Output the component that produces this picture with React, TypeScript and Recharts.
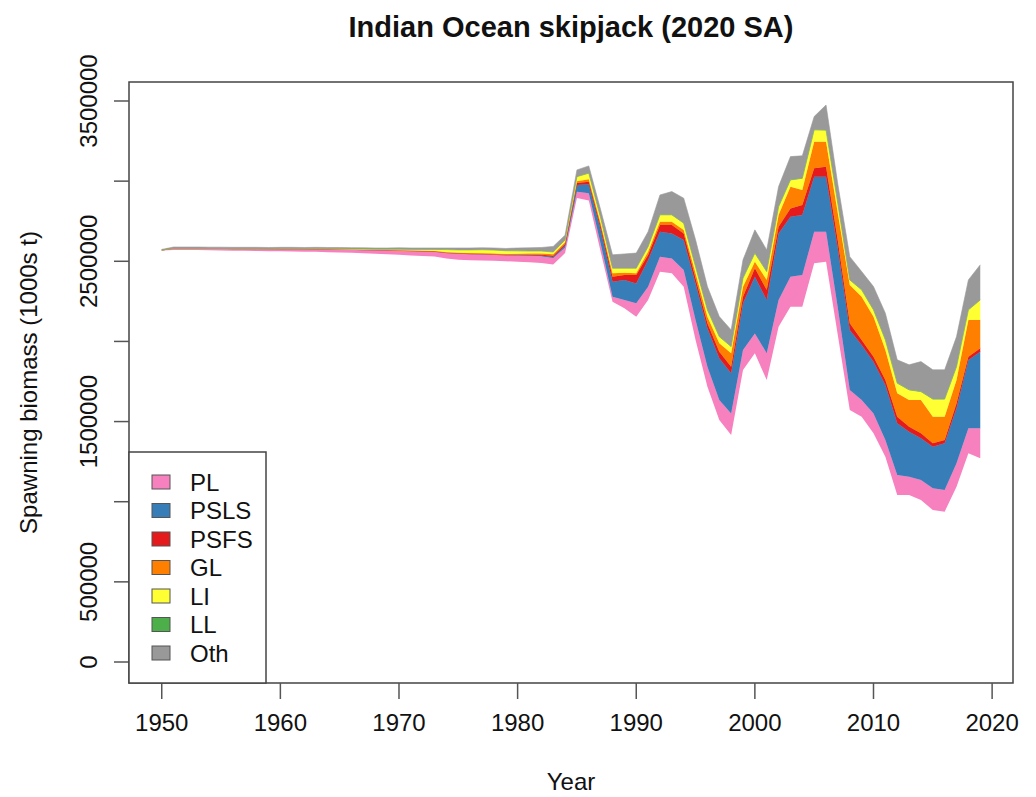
import React from 'react';
import { ComposedChart, Area, XAxis, YAxis, ReferenceArea } from 'recharts';

// Categories
const years = [
  1950, 1951, 1952, 1953, 1954, 1955, 1956, 1957, 1958, 1959,
  1960, 1961, 1962, 1963, 1964, 1965, 1966, 1967, 1968, 1969,
  1970, 1971, 1972, 1973, 1974, 1975, 1976, 1977, 1978, 1979,
  1980, 1981, 1982, 1983, 1984, 1985, 1986, 1987, 1988, 1989,
  1990, 1991, 1992, 1993, 1994, 1995, 1996, 1997, 1998, 1999,
  2000, 2001, 2002, 2003, 2004, 2005, 2006, 2007, 2008, 2009,
  2010, 2011, 2012, 2013, 2014, 2015, 2016, 2017, 2018, 2019,
];

// Spawning biomass (millions of 1000s t) - unfilled base
const baseBiomass = [
  2.568, 2.571, 2.571, 2.570, 2.569, 2.568, 2.566, 2.565, 2.564, 2.563,
  2.562, 2.561, 2.560, 2.559, 2.557, 2.555, 2.553, 2.550, 2.547, 2.544,
  2.540, 2.536, 2.533, 2.530, 2.518, 2.510, 2.506, 2.505, 2.503, 2.500,
  2.497, 2.494, 2.490, 2.480, 2.551, 2.895, 2.879, 2.560, 2.248, 2.207,
  2.154, 2.258, 2.435, 2.425, 2.341, 2.009, 1.717, 1.510, 1.416, 1.822,
  1.926, 1.759, 2.092, 2.216, 2.216, 2.487, 2.497, 2.036, 1.572, 1.530,
  1.427, 1.281, 1.042, 1.042, 1.011, 0.948, 0.938, 1.094, 1.302, 1.271,
];

// Fishery impact layers (millions)
const PL = [
  0.002, 0.010, 0.010, 0.011, 0.011, 0.012, 0.013, 0.014, 0.015, 0.015,
  0.016, 0.017, 0.017, 0.018, 0.019, 0.020, 0.021, 0.022, 0.024, 0.026,
  0.028, 0.030, 0.031, 0.032, 0.036, 0.040, 0.041, 0.041, 0.040, 0.040,
  0.041, 0.042, 0.042, 0.040, 0.035, 0.039, 0.045, 0.050, 0.031, 0.052,
  0.084, 0.083, 0.093, 0.093, 0.104, 0.124, 0.125, 0.124, 0.135, 0.124,
  0.124, 0.167, 0.166, 0.188, 0.198, 0.197, 0.187, 0.170, 0.125, 0.104,
  0.124, 0.104, 0.125, 0.114, 0.124, 0.136, 0.135, 0.146, 0.156, 0.187,
];

const PSLS = [
  0, 0, 0, 0, 0, 0, 0, 0, 0, 0,
  0, 0, 0, 0, 0, 0, 0, 0, 0, 0,
  0, 0, 0, 0, 0, 0, 0, 0, 0, 0,
  0.001, 0.002, 0.004, 0.006, 0.012, 0.042, 0.056, 0.090, 0.093, 0.124,
  0.124, 0.167, 0.156, 0.156, 0.188, 0.229, 0.240, 0.261, 0.250, 0.292,
  0.354, 0.332, 0.416, 0.374, 0.375, 0.343, 0.343, 0.370, 0.374, 0.344,
  0.322, 0.343, 0.322, 0.281, 0.261, 0.259, 0.291, 0.343, 0.426, 0.478,
];

const PSFS = [
  0, 0, 0, 0, 0, 0, 0, 0, 0, 0,
  0, 0, 0, 0, 0, 0, 0, 0, 0, 0,
  0, 0, 0, 0, 0, 0, 0, 0, 0, 0,
  0.002, 0.003, 0.005, 0.008, 0.010, 0.012, 0.016, 0.020, 0.032, 0.031,
  0.052, 0.031, 0.042, 0.052, 0.041, 0.032, 0.031, 0.041, 0.041, 0.041,
  0.052, 0.063, 0.042, 0.052, 0.062, 0.053, 0.062, 0.050, 0.042, 0.031,
  0.032, 0.031, 0.041, 0.031, 0.031, 0.021, 0.021, 0.031, 0.021, 0.021,
];

const GL = [
  0, 0, 0, 0, 0, 0, 0, 0, 0, 0,
  0, 0, 0, 0, 0, 0, 0, 0, 0, 0,
  0.001, 0.001, 0.002, 0.002, 0.003, 0.003, 0.004, 0.004, 0.005, 0.005,
  0.006, 0.007, 0.008, 0.010, 0.010, 0.012, 0.016, 0.015, 0.021, 0.015,
  0.011, 0.021, 0.021, 0.021, 0.021, 0.031, 0.041, 0.052, 0.084, 0.062,
  0.041, 0.062, 0.073, 0.135, 0.093, 0.166, 0.156, 0.170, 0.239, 0.270,
  0.249, 0.187, 0.146, 0.166, 0.207, 0.166, 0.145, 0.145, 0.229, 0.177,
];

const LI = [
  0, 0, 0, 0, 0, 0, 0, 0, 0, 0,
  0.001, 0.001, 0.001, 0.002, 0.002, 0.003, 0.003, 0.004, 0.004, 0.005,
  0.006, 0.007, 0.008, 0.010, 0.016, 0.018, 0.020, 0.022, 0.022, 0.021,
  0.018, 0.016, 0.015, 0.014, 0.015, 0.027, 0.037, 0.035, 0.031, 0.027,
  0.031, 0.031, 0.042, 0.042, 0.042, 0.041, 0.042, 0.041, 0.041, 0.053,
  0.053, 0.052, 0.051, 0.042, 0.073, 0.073, 0.073, 0.060, 0.031, 0.042,
  0.042, 0.063, 0.063, 0.063, 0.052, 0.110, 0.110, 0.083, 0.062, 0.124,
];

const LL = [
  0, 0, 0, 0, 0, 0, 0, 0, 0, 0,
  0, 0, 0, 0, 0, 0, 0, 0, 0, 0,
  0, 0, 0, 0, 0, 0, 0, 0, 0, 0,
  0, 0, 0, 0, 0, 0.001, 0.001, 0.001, 0.001, 0.001,
  0.001, 0.001, 0.001, 0.001, 0.001, 0.001, 0.001, 0.001, 0.001, 0.001,
  0.001, 0.001, 0.001, 0.001, 0.001, 0.001, 0.001, 0.001, 0.001, 0.001,
  0.001, 0.001, 0.001, 0.001, 0.001, 0.001, 0.001, 0.001, 0.001, 0.001,
];

const Oth = [
  0.004, 0.008, 0.008, 0.008, 0.008, 0.008, 0.008, 0.008, 0.008, 0.008,
  0.008, 0.008, 0.008, 0.008, 0.008, 0.008, 0.008, 0.008, 0.008, 0.008,
  0.009, 0.009, 0.009, 0.009, 0.010, 0.012, 0.012, 0.012, 0.013, 0.014,
  0.018, 0.020, 0.022, 0.035, 0.030, 0.042, 0.045, 0.050, 0.083, 0.089,
  0.094, 0.093, 0.124, 0.145, 0.156, 0.167, 0.145, 0.125, 0.104, 0.114,
  0.145, 0.135, 0.125, 0.145, 0.140, 0.083, 0.156, 0.120, 0.145, 0.114,
  0.145, 0.166, 0.145, 0.156, 0.187, 0.182, 0.182, 0.187, 0.187, 0.219,
];

const seriesNames = ['PL', 'PSLS', 'PSFS', 'GL', 'LI', 'LL', 'Oth'];
const seriesColors = ['#F781BF', '#377EB8', '#E41A1C', '#FF7F00', '#FFFF33', '#4DAF4A', '#999999'];
const seriesValues = [PL, PSLS, PSFS, GL, LI, LL, Oth];

const xTicks = [1950, 1960, 1970, 1980, 1990, 2000, 2010, 2020];
const yTicks = [0, 500000, 1000000, 1500000, 2000000, 2500000, 3000000, 3500000];
const yTickLabels = ['0', '500000', '1500000', '2500000', '3500000'];

const X_DOMAIN: [number, number] = [1947.24, 2021.76];
const Y_DOMAIN: [number, number] = [-131000, 3618500];

const data = years.map((yr, i) => {
  const row: Record<string, number> = { year: yr, base: baseBiomass[i] * 1e6 };
  seriesNames.forEach((n, k) => {
    row[n] = seriesValues[k][i] * 1e6;
  });
  return row;
});

const FONT = '"Liberation Sans", Arial, Helvetica, sans-serif';

const XTick = (props: any) => {
  const { x, y, payload } = props;
  return (
    <text x={x} y={y + 30} textAnchor="middle" fontSize={24} fontFamily={FONT} fill="#111">
      {String(payload.value)}
    </text>
  );
};

const YTick = (props: any) => {
  const { x, y, payload } = props;
  const label = String(payload.value);
  if (!yTickLabels.includes(label)) return <g />;
  const tx = x - 15;
  return (
    <text
      x={tx}
      y={y}
      textAnchor="middle"
      fontSize={24}
      fontFamily={FONT}
      fill="#111"
      transform={`rotate(-90 ${tx} ${y})`}
    >
      {label}
    </text>
  );
};

export default function App() {
  return (
    <div style={{ position: 'absolute', left: 0, top: 0, width: 1036, height: 797, background: '#fff' }}>
      <ComposedChart width={1036} height={797} data={data} margin={{ top: 82, right: 23, bottom: 0, left: 0 }}>
        <XAxis
          dataKey="year"
          type="number"
          domain={X_DOMAIN}
          ticks={xTicks}
          allowDataOverflow
          interval={0}
          height={114}
          axisLine={false}
          tickLine={{ stroke: '#555', strokeWidth: 1.5 }}
          tickSize={16}
          tickMargin={2}
          tick={<XTick />}
        />
        <YAxis
          type="number"
          domain={Y_DOMAIN}
          ticks={yTicks}
          allowDataOverflow
          interval={0}
          width={129}
          axisLine={false}
          tickLine={{ stroke: '#555', strokeWidth: 1.5 }}
          tickSize={15}
          tickMargin={2}
          tick={<YTick />}
        />
        <Area
          dataKey="base"
          stackId="s"
          type="linear"
          fill="none"
          stroke="none"
          isAnimationActive={false}
          dot={false}
          activeDot={false}
        />
        {seriesNames.map((n, k) => (
          <Area
            key={n}
            dataKey={n}
            name={n}
            stackId="s"
            type="linear"
            fill={seriesColors[k]}
            fillOpacity={1}
            stroke={seriesColors[k]}
            strokeWidth={0.6}
            isAnimationActive={false}
            dot={false}
            activeDot={false}
          />
        ))}
        <ReferenceArea
          x1={X_DOMAIN[0]}
          x2={X_DOMAIN[1]}
          y1={Y_DOMAIN[0]}
          y2={Y_DOMAIN[1]}
          fill="none"
          stroke="#444"
          strokeWidth={1.5}
          ifOverflow="visible"
        />
      </ComposedChart>
      <svg
        width={1036}
        height={797}
        style={{ position: 'absolute', left: 0, top: 0, pointerEvents: 'none' }}
        fontFamily={FONT}
      >
        <text x={571} y={37} textAnchor="middle" fontSize={29} fontWeight="bold" fill="#111">
          Indian Ocean skipjack (2020 SA)
        </text>
        <text x={571} y={790} textAnchor="middle" fontSize={24} fill="#111">
          Year
        </text>
        <text
          x={37}
          y={382.5}
          textAnchor="middle"
          fontSize={24}
          fill="#111"
          transform="rotate(-90 37 382.5)"
        >
          Spawning biomass (1000s t)
        </text>
        <rect x={129} y={452} width={137} height={231} fill="#fff" stroke="#444" strokeWidth={1.5} />
        {seriesNames.map((n, k) => {
          const cy = 482 + k * 28.5;
          return (
            <g key={n}>
              <rect x={152} y={cy - 7} width={18} height={14} fill={seriesColors[k]} stroke="#555" strokeWidth={1} />
              <text x={190} y={cy + 8.5} fontSize={24} fill="#111">
                {n}
              </text>
            </g>
          );
        })}
      </svg>
    </div>
  );
}
